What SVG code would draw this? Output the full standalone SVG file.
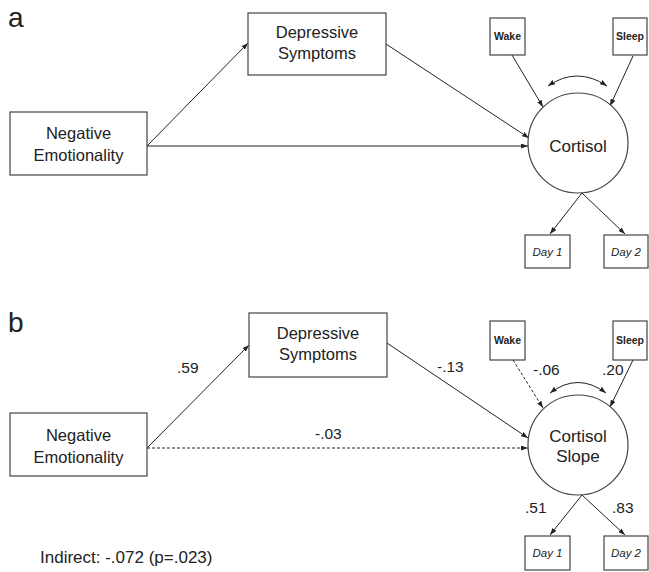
<svg xmlns="http://www.w3.org/2000/svg" width="649" height="572" viewBox="0 0 649 572">
<defs>
<marker id="ah" markerWidth="7" markerHeight="5" refX="7" refY="2.5" orient="auto-start-reverse" markerUnits="userSpaceOnUse"><path d="M0,0 L7,2.5 L0,5 z" fill="#222"/></marker>
</defs>
<style>
.box{fill:#fff;stroke:#444;stroke-width:1.2}
.t{font-family:"Liberation Sans",Arial,sans-serif;fill:#222;text-anchor:middle}
.lbl{font-family:"Liberation Sans",Arial,sans-serif;fill:#222;font-size:15.5px}
.big{font-size:16.5px}
.sm{font-size:10.5px;font-weight:bold}
.it{font-size:11.5px;font-style:italic}
.ln{stroke:#222;stroke-width:1;fill:none}
.dash{stroke-dasharray:3,2}
</style>
<rect width="649" height="572" fill="#fff"/>
<text x="8" y="27" class="lbl" style="font-size:28px">a</text>
<text x="8" y="332" class="lbl" style="font-size:28px">b</text>
<g id="connectors">
<line class="ln" x1="147" y1="146" x2="248" y2="43" marker-end="url(#ah)"/>
<line class="ln" x1="147" y1="146" x2="528" y2="146" marker-end="url(#ah)"/>
<line class="ln" x1="386" y1="44" x2="529" y2="138" marker-end="url(#ah)"/>
<line class="ln" x1="512" y1="55" x2="543" y2="107" marker-end="url(#ah)"/>
<line class="ln" x1="633" y1="56" x2="610" y2="106" marker-end="url(#ah)"/>
<line class="ln" x1="582" y1="193" x2="550" y2="234" marker-end="url(#ah)"/>
<line class="ln" x1="582" y1="193" x2="625" y2="234" marker-end="url(#ah)"/>
<path class="ln" d="M548,86 Q577,66 607,86" marker-start="url(#ah)" marker-end="url(#ah)"/>
<line class="ln" x1="147" y1="448" x2="249" y2="345" marker-end="url(#ah)"/>
<line class="ln dash" x1="147" y1="448" x2="528" y2="448" marker-end="url(#ah)"/>
<line class="ln" x1="387" y1="343" x2="528" y2="438" marker-end="url(#ah)"/>
<line class="ln dash" x1="513" y1="360" x2="543" y2="408" marker-end="url(#ah)"/>
<line class="ln" x1="633" y1="360" x2="610" y2="407" marker-end="url(#ah)"/>
<line class="ln" x1="582" y1="495" x2="550" y2="535" marker-end="url(#ah)"/>
<line class="ln" x1="582" y1="495" x2="625" y2="535" marker-end="url(#ah)"/>
<path class="ln" d="M550,393 Q578,372 606,393" marker-start="url(#ah)" marker-end="url(#ah)"/>
<text class="lbl" x="177" y="373">.59</text>
<text class="lbl" x="437" y="372">-.13</text>
<text class="lbl" x="315" y="439">-.03</text>
<text class="lbl" x="533" y="375">-.06</text>
<text class="lbl" x="602" y="375">.20</text>
<text class="lbl" x="525" y="513">.51</text>
<text class="lbl" x="612" y="513">.83</text>
</g>
<g id="a-ne"><rect class="box" x="10" y="112" width="137" height="63"/><text class="t big" x="78.5" y="139">Negative</text><text class="t big" x="78.5" y="161">Emotionality</text></g>
<g id="a-ds"><rect class="box" x="248" y="13" width="138" height="62"/><text class="t big" x="317" y="38">Depressive</text><text class="t big" x="317" y="59">Symptoms</text></g>
<g id="a-cort"><circle class="box" cx="578" cy="143" r="50"/><text class="t" x="578" y="152" style="font-size:17px">Cortisol</text></g>
<g id="a-wake"><rect class="box" x="490" y="18" width="35" height="37"/><text class="t sm" x="507.5" y="40">Wake</text></g>
<g id="a-sleep"><rect class="box" x="613" y="18" width="34" height="37"/><text class="t sm" x="630" y="40">Sleep</text></g>
<g id="a-day1"><rect class="box" x="525" y="235" width="45" height="33"/><text class="t it" x="547.5" y="256">Day 1</text></g>
<g id="a-day2"><rect class="box" x="604" y="235" width="44" height="33"/><text class="t it" x="626" y="256">Day 2</text></g>
<g id="b-ne"><rect class="box" x="10" y="413" width="137" height="63"/><text class="t big" x="78.5" y="441">Negative</text><text class="t big" x="78.5" y="463">Emotionality</text></g>
<g id="b-ds"><rect class="box" x="249" y="313" width="138" height="64"/><text class="t big" x="318" y="339">Depressive</text><text class="t big" x="318" y="360">Symptoms</text></g>
<g id="b-cort"><circle class="box" cx="578" cy="445" r="50"/><text class="t" x="578" y="442" style="font-size:17px">Cortisol</text><text class="t" x="578" y="462" style="font-size:17px">Slope</text></g>
<g id="b-wake"><rect class="box" x="490" y="321" width="35" height="39"/><text class="t sm" x="507.5" y="344">Wake</text></g>
<g id="b-sleep"><rect class="box" x="613" y="321" width="34" height="39"/><text class="t sm" x="630" y="344">Sleep</text></g>
<g id="b-day1"><rect class="box" x="525" y="536" width="45" height="34"/><text class="t it" x="547.5" y="557">Day 1</text></g>
<g id="b-day2"><rect class="box" x="604" y="536" width="44" height="34"/><text class="t it" x="626" y="557">Day 2</text></g>
<text class="lbl" x="40" y="563" style="font-size:17px">Indirect: -.072 (p=.023)</text>
</svg>
